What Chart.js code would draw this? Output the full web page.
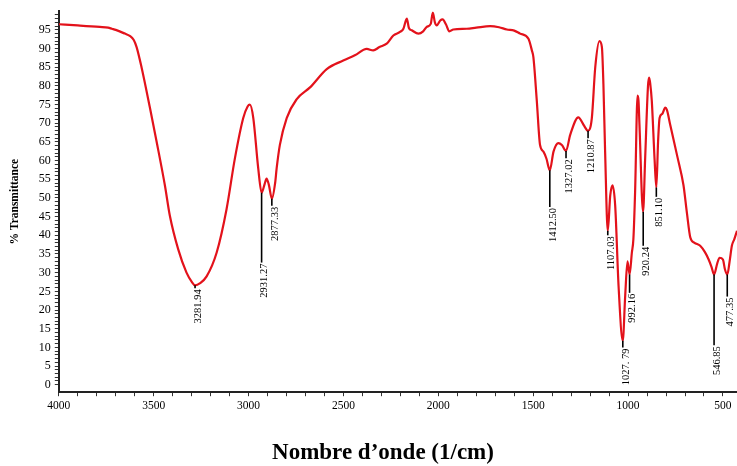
<!DOCTYPE html>
<html>
<head>
<meta charset="utf-8">
<script src="https://cdn.jsdelivr.net/npm/chart.js@4.4.1/dist/chart.umd.min.js"></script>
<style>
  html, body { margin: 0; padding: 0; background: #fff; }
  #wrap { position: relative; width: 737px; height: 466px; }
  #xTitle {
    position: absolute; left: 233px; width: 300px; top: 439px;
    text-align: center; font: bold 23px "Liberation Serif", "Times New Roman", serif; color: #000;
  }
</style>
</head>
<body>
<div id="wrap">
  <canvas id="grafikIR" width="737" height="466"></canvas>
  <div id="xTitle">Nombre d’onde (1/cm)</div>
</div>
<script>
// ---------------------------------------------------------------
// Data spektrum IR
// ---------------------------------------------------------------
const wavenumbers = [
  4000, 3900, 3784, 3740, 3720, 3700, 3652, 3626, 3605, 3590, 3564, 3520, 3485, 3441, 3415,
  3371, 3327, 3300, 3282, 3255, 3221, 3168, 3116, 3072, 3028, 3005, 2993, 2975, 2949, 2931,
  2915, 2905, 2893, 2877, 2860, 2852, 2835, 2799, 2747, 2676, 2588, 2501, 2440, 2377, 2343,
  2310, 2272, 2237, 2200, 2184, 2166, 2155, 2140, 2105, 2080, 2061, 2040, 2029, 2018, 2008,
  1990, 1977, 1960, 1942, 1921, 1850, 1800, 1727, 1680, 1639, 1600, 1569, 1525, 1507, 1499,
  1481, 1464, 1446, 1430, 1412.5, 1393, 1367, 1349, 1327, 1305, 1262, 1235, 1211, 1191, 1173,
  1151, 1138, 1130, 1121, 1107, 1094, 1082, 1068, 1050, 1028, 1015, 1003, 992, 980, 972,
  963, 950, 945, 940, 921, 910, 895, 889, 883, 875, 860, 851, 842, 834, 820,
  804, 795, 778, 740, 708, 690, 672, 650, 620, 595, 576, 560, 547, 530, 518,
  500, 490, 477, 465, 453, 440, 426
];
const transmittance = [
  96.5, 96.2, 95.8, 95.6, 95.3, 95.0, 94.0, 93.4, 92.3, 90.4, 85.0, 74.2, 65.2, 53.4, 45.3,
  36.3, 30.0, 27.6, 26.6, 27.2, 29.0, 35.4, 47.0, 60.6, 71.4, 74.5, 75.0, 71.4, 57.9, 51.4,
  53.8, 55.2, 53.5, 49.8, 54.0, 57.9, 64.2, 71.4, 76.4, 79.6, 84.5, 86.8, 88.2, 89.9, 89.5,
  90.4, 91.3, 93.5, 94.5, 95.3, 98.0, 95.5, 94.9, 94.0, 94.6, 95.8, 96.6, 99.6, 97.0, 96.2,
  97.5, 97.8, 96.5, 94.6, 95.1, 95.3, 95.6, 96.0, 95.7, 95.1, 94.8, 94.0, 92.6, 89.5, 87.7,
  76.0, 64.2, 62.4, 60.5, 57.4, 62.4, 64.7, 64.2, 62.6, 66.9, 71.6, 69.6, 68.0, 71.4, 85.0,
  92.0, 90.4, 80.5, 62.4, 41.2, 50.7, 53.4, 48.0, 26.3, 11.8, 24.0, 33.0, 29.5, 35.4, 39.0,
  51.6, 77.4, 76.0, 69.6, 46.3, 60.6, 80.0, 82.2, 80.5, 76.0, 60.0, 52.8, 65.0, 71.4, 72.5,
  74.2, 73.5, 69.6, 61.0, 53.4, 46.0, 39.4, 38.0, 37.2, 35.5, 33.6, 31.5, 29.5, 32.5, 34.0,
  33.5, 31.0, 29.5, 33.0, 37.2, 39.0, 41.2
];

// label puncak: posisi, nilai T di puncak, ujung garis penunjuk
const peakWn     = [3281.94, 2931.27, 2877.33, 1412.50, 1327.02, 1210.87, 1107.03, 1027.79, 992.16, 920.24, 851.10, 546.85, 477.35];
const peakLabels = ['3281.94', '2931.27', '2877.33', '1412.50', '1327.02', '1210.87', '1107.03', '1027. 79', '992.16', '920.24', '851.10', '546.85', '477.35'];
const peakT      = [26.6, 51.4, 49.8, 57.4, 62.6, 68.0, 41.2, 11.8, 29.5, 46.3, 52.8, 29.5, 29.5];
const leaderEndT = [25.8, 32.7, 47.9, 47.6, 60.6, 66.0, 40.0, 10.0, 24.6, 37.2, 50.3, 10.6, 23.6];

const xTickLabels = [4000, 3500, 3000, 2500, 2000, 1500, 1000, 500];
const yTickLabels = [0, 5, 10, 15, 20, 25, 30, 35, 40, 45, 50, 55, 60, 65, 70, 75, 80, 85, 90, 95];

const SERIF = '"Liberation Serif", "Times New Roman", serif';

// plugin untuk garis penunjuk + angka puncak (vertikal)
const labelPuncak = {
  id: 'labelPuncak',
  afterDatasetsDraw(chart) {
    const { ctx, scales: { x, y } } = chart;
    ctx.save();
    ctx.strokeStyle = '#000';
    ctx.fillStyle = '#000';
    ctx.lineWidth = 1.6;
    ctx.font = '10.5px ' + SERIF;
    peakWn.forEach((wn, i) => {
      const px = x.getPixelForValue(wn);
      const y1 = y.getPixelForValue(peakT[i]);
      const y2 = y.getPixelForValue(leaderEndT[i]);
      ctx.beginPath();
      ctx.moveTo(px, y1);
      ctx.lineTo(px, y2);
      ctx.stroke();
      ctx.save();
      ctx.translate(px + 3, y2 + 1);
      ctx.rotate(-Math.PI / 2);
      ctx.textAlign = 'right';
      ctx.textBaseline = 'middle';
      ctx.fillText(peakLabels[i], 0, 0);
      ctx.restore();
    });
    ctx.restore();
  }
};

new Chart(document.getElementById('grafikIR'), {
  type: 'line',
  data: {
    datasets: [{
      label: '% Transmittance',
      data: wavenumbers.map((w, i) => ({ x: w, y: transmittance[i] })),
      borderColor: '#e3121b',
      borderWidth: 2.2,
      pointRadius: 0,
      fill: false,
      cubicInterpolationMode: 'monotone'
    }]
  },
  options: {
    responsive: false,
    animation: false,
    devicePixelRatio: 1,
    layout: { padding: { top: 11, right: 0, bottom: 50, left: 0 } },
    plugins: {
      legend: { display: false },
      tooltip: { enabled: false }
    },
    scales: {
      x: {
        type: 'linear',
        reverse: true,
        min: 426,
        max: 4000,
        afterBuildTicks(scale) {
          const t = [];
          for (let v = 500; v <= 4000; v += 100) t.push({ value: v });
          scale.ticks = t;
        },
        border: { display: true, color: '#222', width: 2 },
        grid: { drawOnChartArea: false, drawTicks: true, tickLength: 4, color: '#333' },
        ticks: {
          autoSkip: false,
          maxRotation: 0,
          padding: 3,
          color: '#000',
          font: { family: SERIF, size: 11.5 },
          callback: (v) => xTickLabels.includes(v) ? String(v) : ''
        }
      },
      y: {
        min: -2,
        max: 100,
        afterBuildTicks(scale) {
          const t = [];
          for (let v = 0; v <= 99; v += 1) t.push({ value: v });
          scale.ticks = t;
        },
        border: { display: true, color: '#222', width: 2 },
        grid: { drawOnChartArea: false, drawTicks: true, tickLength: 4, color: '#333' },
        ticks: {
          autoSkip: false,
          padding: 4,
          color: '#000',
          font: { family: SERIF, size: 12 },
          callback: (v) => yTickLabels.includes(v) ? String(v) : ''
        },
        title: {
          display: true,
          text: '% Transmittance',
          color: '#000',
          font: { family: SERIF, size: 11.5, weight: 'bold' },
          padding: { top: 8, bottom: 13 }
        }
      }
    }
  },
  plugins: [labelPuncak]
});
</script>
</body>
</html>
